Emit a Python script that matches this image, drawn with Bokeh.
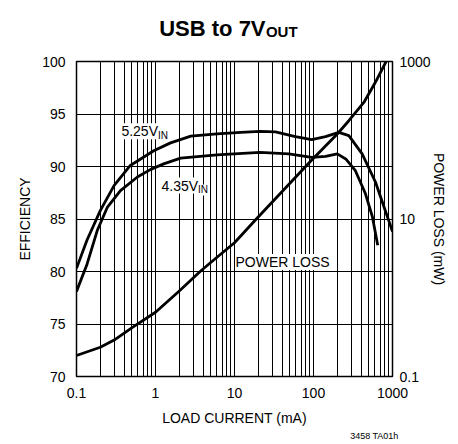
from bokeh.plotting import figure
from bokeh.layouts import column
from bokeh.models import (Range1d, LogScale, LogAxis, FixedTicker, Label, Title,
                          CustomJSTickFormatter)
from bokeh.core.properties import value
from bokeh.embed import file_html
from bokeh.resources import INLINE

# ---- data ----
load_525 = [0.1, 0.136, 0.2, 0.3, 0.48, 0.95, 1.55, 2.8, 6, 12, 21, 33, 59, 95,
            142, 209, 280, 413, 610, 1000]
eff_525 = [80.3, 83.0, 85.8, 88.2, 90.1, 91.5, 92.25, 92.9, 93.1, 93.25, 93.35,
           93.3, 92.84, 92.56, 92.84, 93.25, 92.94, 91.2, 88.5, 83.8]

load_435 = [0.1, 0.136, 0.183, 0.245, 0.36, 0.59, 0.86, 1.27, 2.08, 6, 21, 48.6,
            95, 142, 200, 256, 339, 455, 557, 650]
eff_435 = [78.1, 80.7, 83.9, 86.1, 87.7, 89.0, 89.7, 90.25, 90.8, 91.1, 91.35,
           91.2, 90.87, 90.97, 91.2, 90.72, 89.6, 87.4, 85.2, 82.5]

load_pl = [0.1, 0.2, 0.3, 0.5, 1, 2, 3.7, 5, 10, 18.5, 48.6, 95, 200, 280, 434,
           600, 830]
loss_pl = [0.185, 0.235, 0.29, 0.415, 0.655, 1.22, 2.17, 2.8, 5.0, 9.8, 27.4, 56,
           120, 177, 302, 533, 1000]

x_major = [0.1, 1, 10, 100, 1000]
x_minor = [m * 10.0 ** e for e in range(-1, 3) for m in range(2, 10)]
eff_ticks = [70, 75, 80, 85, 90, 95, 100]
loss_ticks = [0.1, 10, 1000]

title_main = "USB to 7V"
title_sub = "OUT"

FONT = "Liberation Sans"
W = 458
TH = 50

# ---- title strip (its own small figure, pixel coordinates) ----
t = figure(width=W, height=TH, x_range=Range1d(0, W), y_range=Range1d(0, TH),
           output_backend="svg", toolbar_location=None, min_border=0,
           x_axis_location=None, y_axis_location=None)
t.grid.visible = False
t.outline_line_color = None
t.text(x=[274], y=[TH - 27.7], text=[title_main], text_font=value(FONT),
       text_font_size="22px", text_font_style="bold", text_color="black",
       text_align="right", text_baseline="middle")
t.text(x=[274.5], y=[TH - 31.2], text=[title_sub], text_font=value(FONT),
       text_font_size="15px", text_font_style="bold", text_color="black",
       text_align="left", text_baseline="middle")

# ---- main chart ----
p = figure(width=W, height=444 - TH, x_axis_type="log",
           x_range=Range1d(0.1, 1000), y_range=Range1d(70, 100),
           output_backend="svg", toolbar_location=None,
           min_border_left=76, min_border_right=66, min_border_top=61 - TH,
           min_border_bottom=68)
p.extra_y_ranges = {"pl": Range1d(0.1, 1000)}
p.extra_y_scales = {"pl": LogScale()}

fmt = "return Number(tick.toPrecision(6)).toString();"

xt = FixedTicker(ticks=x_major, minor_ticks=x_minor)
p.xaxis.ticker = xt
p.xgrid.ticker = xt
p.xaxis.formatter = CustomJSTickFormatter(code=fmt)
p.xaxis.axis_label = "LOAD CURRENT (mA)"

yt = FixedTicker(ticks=eff_ticks)
p.yaxis.ticker = yt
p.ygrid.ticker = yt
p.yaxis.axis_label = "EFFICIENCY"

ry = LogAxis(y_range_name="pl", ticker=FixedTicker(ticks=loss_ticks),
             formatter=CustomJSTickFormatter(code=fmt),
             axis_label="POWER LOSS (mW)")
p.add_layout(ry, "right")

for ax in [p.xaxis[0], p.yaxis[0], ry]:
    ax.axis_line_color = None
    ax.major_tick_line_color = None
    ax.minor_tick_line_color = None
    ax.major_tick_out = 0
    ax.major_tick_in = 0
    ax.minor_tick_out = 0
    ax.minor_tick_in = 0
    ax.major_label_text_font = FONT
    ax.major_label_text_font_size = "14px"
    ax.major_label_text_color = "black"
    ax.axis_label_text_font = FONT
    ax.axis_label_text_font_size = "14px"
    ax.axis_label_text_font_style = "normal"
    ax.axis_label_text_color = "black"

p.xaxis.major_label_standoff = 11
p.xaxis.axis_label_standoff = 9
p.yaxis.major_label_standoff = 11
p.yaxis.axis_label_standoff = 6
ry.major_label_standoff = 7
ry.axis_label_standoff = -3

p.xgrid.grid_line_color = "black"
p.xgrid.grid_line_width = 1
p.xgrid.minor_grid_line_color = "black"
p.xgrid.minor_grid_line_width = 1
p.ygrid.grid_line_color = "black"
p.ygrid.grid_line_width = 1
p.outline_line_color = "black"
p.outline_line_width = 1.5
p.outline_line_alpha = 1

lw = 2.8
p.line(load_525, eff_525, line_width=lw, color="black", line_join="round")
p.line(load_435, eff_435, line_width=lw, color="black", line_join="round")
p.line(load_pl, loss_pl, y_range_name="pl", line_width=lw, color="black",
       line_join="round")


def lab(text, x, y, size, xo=0, yo=0):
    p.add_layout(Label(x=x, y=y, x_offset=xo, y_offset=yo, text=text,
                       text_font=FONT, text_font_size=size,
                       text_color="black", text_align="left",
                       text_baseline="alphabetic",
                       background_fill_color="white"))


# curve labels
lab("5.25V", 0.37, 93.35, "14px")
lab("IN", 0.37, 93.35, "10px", xo=36.6, yo=-4.3)
lab("4.35V", 1.19, 88.18, "14px")
lab("IN", 1.19, 88.18, "10px", xo=36.6, yo=-4.3)
lab("POWER LOSS", 10.3, 80.9, "14px")

# figure id
fid = Title(text="3458 TA01h", align="right", offset=-6, text_font=FONT,
            text_font_size="9px", text_font_style="normal", text_color="black",
            standoff=0)
p.add_layout(fid, "below")

layout = column(t, p, spacing=0)
open("out.html", "w").write(file_html(layout, INLINE))
